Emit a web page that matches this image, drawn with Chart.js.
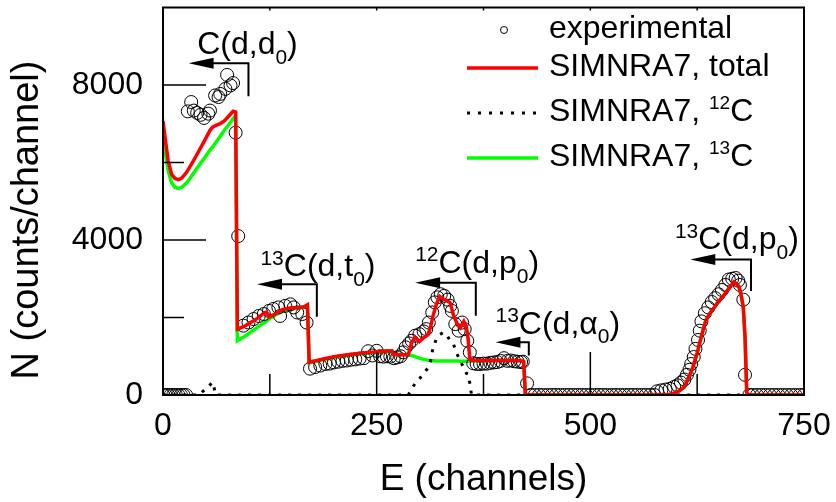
<!DOCTYPE html>
<html>
<head>
<meta charset="utf-8">
<script src="https://cdn.jsdelivr.net/npm/chart.js@4.4.1/dist/chart.umd.min.js"></script>
<style>
  html, body { margin: 0; padding: 0; background: #fff; }
</style>
</head>
<body>
<canvas id="spectrum" width="836" height="502"></canvas>
<script>
// experimental spectrum (channel, counts per channel)
const expChannels = [
  0, 3, 6, 9, 12, 15, 18, 21, 24, 27,
  29, 33, 36, 40, 44, 48, 53, 55, 61, 65, 67, 73, 75, 79, 82, 85, 88,
  94, 100, 106, 112, 118, 124, 129, 135, 137, 143, 149, 153, 157, 163, 168,
  172, 178, 184, 190, 195, 200, 205, 210, 215, 220, 225, 230, 235, 240, 245, 250, 254, 258, 262, 266, 270, 274, 278, 281, 284, 288, 291, 295,
  300, 305, 308, 311, 315, 318, 321, 325, 329, 333, 336, 338, 342, 346, 350, 353, 356, 359,
  363, 367, 371, 375, 379, 383, 387, 391, 395, 399, 403, 407, 411, 415, 419, 421, 426,
  430, 435, 440, 445, 450, 455, 460, 465, 470, 475, 480, 485, 490, 495, 500, 505, 510, 515, 520, 525, 530, 535, 540, 545, 550, 555, 560, 565, 570, 575,
  578, 583, 588, 593, 598, 602, 606, 610, 613, 616, 618, 621, 623, 626, 628, 630, 634, 638, 642, 646, 650, 654, 658, 662, 666, 670, 673, 675, 679, 681,
  686, 690, 695, 700, 705, 710, 715, 720, 725, 730, 735, 740, 745, 750
];
const expCounts = [
  0, 0, 0, 0, 0, 0, 0, 0, 0, 0,
  7320, 7560, 7340, 7280, 7230, 7150, 7260, 7340, 7730, 7690, 7770, 7900, 8260, 7990, 8050, 6770, 4100,
  1790, 1870, 1960, 2040, 2090, 2170, 2220, 2260, 2040, 2300, 2340, 2260, 2130, 2090, 1870,
  680, 720, 760, 800, 810, 840, 860, 880, 890, 910, 920, 940, 950, 1130, 1020, 1140, 1000, 990, 1000, 990, 950, 970, 1000, 1100, 1230, 1330, 1400, 1530,
  1570, 1640, 1700, 1870, 2130, 2390, 2520, 2600, 2560, 2460, 2300, 2170, 1830, 1660, 1870, 1700, 1400, 1100,
  820, 800, 800, 810, 810, 830, 840, 850, 880, 950, 880, 890, 870, 860, 850, 860, 300,
  0, 0, 0, 0, 0, 0, 0, 0, 0, 0, 0, 0, 0, 0, 0, 0, 0, 0, 0, 0, 0, 0, 0, 0, 0, 0, 0, 0, 0, 0,
  95, 120, 140, 160, 210, 250, 320, 400, 520, 650, 800, 980, 1190, 1420, 1660, 1900, 2110, 2260, 2400, 2500, 2600, 2710, 2840, 2980, 3000, 3020, 2950, 2840, 2460, 520,
  0, 0, 0, 0, 0, 0, 0, 0, 0, 0, 0, 0, 0, 0
];

// SIMNRA7 simulation
const simChannels = [
  0, 3, 6, 10, 14, 18, 22, 28, 35, 42,
  48, 55, 58, 62, 67, 72, 77, 82, 85, 87,
  95, 100, 110, 118, 121, 124, 131, 140, 150, 160,
  165, 169, 171, 180, 190, 200, 220, 240, 255, 268,
  270, 280, 287, 291, 295, 300, 305, 310, 313, 316,
  320, 324, 328, 332, 336, 340, 344, 348, 352, 355,
  357, 359, 361, 370, 380, 400, 415, 420, 422, 424,
  500, 590, 595, 600, 605, 610, 615, 620, 625, 630,
  635, 640, 645, 650, 655, 660, 665, 668, 671, 674,
  677, 679, 681, 683, 685, 750
];
const simTotal = [
  7070, 6550, 6050, 5700, 5590, 5560, 5600, 5760, 6020, 6300,
  6540, 6830, 6910, 6960, 7000, 7080, 7200, 7320, 7300, 1700,
  1770, 1840, 1970, 2110, 2140, 2010, 2090, 2210, 2250, 2260,
  2280, 2330, 850, 890, 940, 990, 1050, 1100, 1120, 1140,
  1050, 1040, 1040, 1360, 1490, 1380, 1480, 1560, 1750, 2050,
  2350, 2540, 2470, 2440, 2380, 2050, 1850, 1740, 1900, 1750,
  1450, 910, 895, 890, 890, 890, 890, 880, 860, 0,
  0, 0, 30, 60, 120, 210, 450, 720, 1080, 1520,
  1920, 2110, 2260, 2420, 2540, 2690, 2830, 2920, 2870, 2790,
  2520, 2250, 1500, 60, 0, 0
];
const simC12 = [
  0, 0, 0, 0, 0, 0, 0, 0, 0, 0,
  120, 260, 330, 0, 0, 0, 0, 0, 0, 0,
  0, 0, 0, 0, 0, 0, 0, 0, 0, 0,
  0, 0, 0, 0, 0, 0, 0, 0, 0, 0,
  0, 0, 0, 160, 300, 420, 550, 700, 870, 1230,
  1450, 1560, 1615, 1550, 1400, 1300, 1060, 870, 700, 560,
  540, 300, 0, 0, 0, 0, 0, 0, 0, 0,
  0, 0, 0, 0, 0, 0, 0, 0, 0, 0,
  0, 0, 0, 0, 0, 0, 0, 0, 0, 0,
  0, 0, 0, 0, 0, 0
];
const simC13 = [
  6740, 6200, 5800, 5480, 5360, 5330, 5360, 5480, 5700, 5920,
  6100, 6320, 6400, 6520, 6680, 6840, 6980, 7130, 7200, 1400,
  1500, 1580, 1740, 1860, 1900, 1960, 2060, 2160, 2220, 2250,
  2270, 2300, 830, 870, 920, 970, 1030, 1080, 1100, 1120,
  1040, 1040, 1040, 1020, 990, 950, 920, 900, 890, 885,
  880, 880, 880, 878, 875, 875, 875, 872, 870, 870,
  870, 870, 880, 885, 888, 890, 890, 880, 860, 0,
  0, 0, 30, 60, 120, 210, 450, 720, 1080, 1520,
  1920, 2110, 2260, 2420, 2540, 2690, 2830, 2920, 2870, 2790,
  2520, 2250, 1500, 60, 0, 0
];

const xTicks = [0, 250, 500, 750];
const xMinorTicks = [125, 375, 625];
const yTicks = [0, 4000, 8000];
const yMinorTicks = [2000, 6000];

// reaction edge markers: arrow from edge channel back to tip, label above
const reactions = [
  { edge: 100, tip: 30, level: 8560, foot: 7710, at: 40, base: 8800, label: [['C(d,d'], ['0', 'sub'], [')']] },
  { edge: 180, tip: 110, level: 2860, foot: 2020, at: 114, base: 3070, label: [['13', 'sup'], ['C(d,t'], ['0', 'sub'], [')']] },
  { edge: 366, tip: 295, level: 2900, foot: 2045, at: 295, base: 3150, label: [['12', 'sup'], ['C(d,p'], ['0', 'sub'], [')']] },
  { edge: 428, tip: 389, level: 1360, foot: 1020, at: 389, base: 1580, label: [['13', 'sup'], ['C(d,\u03b1'], ['0', 'sub'], [')']] },
  { edge: 688, tip: 617, level: 3500, foot: 2685, at: 599, base: 3760, label: [['13', 'sup'], ['C(d,p'], ['0', 'sub'], [')']] }
];

const legendRows = [
  { name: [['experimental']], symbol: 'circle' },
  { name: [['SIMNRA7, total']], symbol: 'red' },
  { name: [['SIMNRA7, '], ['12', 'sup'], ['C']], symbol: 'dots' },
  { name: [['SIMNRA7, '], ['13', 'sup'], ['C']], symbol: 'green' }
];

const family = '"Liberation Sans", Arial, sans-serif';
Chart.defaults.font.family = family;
Chart.defaults.color = '#000';

const pts = (xs, ys) => xs.map((v, i) => ({ x: v, y: ys[i] }));

function richText(ctx, x, y, parts, size, supSize) {
  for (const [str, kind] of parts) {
    const small = kind === 'sup' || kind === 'sub';
    ctx.font = (small ? supSize : size) + 'px ' + family;
    const dy = kind === 'sup' ? -size * 0.36 : kind === 'sub' ? size * 0.3 : 0;
    ctx.fillText(str, x, y + dy);
    x += ctx.measureText(str).width;
  }
  return x;
}

const overlay = {
  id: 'overlay',
  afterDatasetsDraw(chart) {
    const { ctx, chartArea: a, scales: { x, y } } = chart;
    ctx.save();
    ctx.strokeStyle = '#000';
    ctx.fillStyle = '#000';

    // inward ticks
    ctx.lineWidth = 1.5;
    ctx.beginPath();
    xTicks.forEach(v => { const p = x.getPixelForValue(v); ctx.moveTo(p, a.bottom); ctx.lineTo(p, a.bottom - 43); ctx.moveTo(p, a.top); ctx.lineTo(p, a.top + 3); });
    xMinorTicks.forEach(v => { const p = x.getPixelForValue(v); ctx.moveTo(p, a.bottom); ctx.lineTo(p, a.bottom - 21); ctx.moveTo(p, a.top); ctx.lineTo(p, a.top + 3); });
    yTicks.forEach(v => { const p = y.getPixelForValue(v); ctx.moveTo(a.left, p); ctx.lineTo(a.left + 43, p); });
    yMinorTicks.forEach(v => { const p = y.getPixelForValue(v); ctx.moveTo(a.left, p); ctx.lineTo(a.left + 21, p); });
    ctx.stroke();

    // frame
    ctx.lineWidth = 2;
    ctx.strokeRect(a.left, a.top, a.right - a.left, a.bottom - a.top);

    // reaction markers
    ctx.textBaseline = 'alphabetic';
    ctx.textAlign = 'left';
    reactions.forEach(r => {
      const ex = x.getPixelForValue(r.edge), tx = x.getPixelForValue(r.tip);
      const ly = y.getPixelForValue(r.level), fy = y.getPixelForValue(r.foot);
      ctx.lineWidth = 2;
      ctx.beginPath();
      ctx.moveTo(ex, fy);
      ctx.lineTo(ex, ly);
      ctx.lineTo(tx + 20, ly);
      ctx.stroke();
      ctx.beginPath();
      ctx.moveTo(tx, ly);
      ctx.lineTo(tx + 25, ly - 5.5);
      ctx.lineTo(tx + 25, ly + 5.5);
      ctx.closePath();
      ctx.fill();
      richText(ctx, x.getPixelForValue(r.at), y.getPixelForValue(r.base), r.label, 32, 21);
    });

    // legend
    const rowBase = [38, 76, 121, 166];
    legendRows.forEach((row, i) => {
      const by = rowBase[i], my = by - 8;
      ctx.save();
      if (row.symbol === 'circle') {
        ctx.lineWidth = 1;
        ctx.beginPath();
        ctx.arc(504, my, 3.5, 0, Math.PI * 2);
        ctx.stroke();
      } else {
        ctx.beginPath();
        ctx.moveTo(467, my);
        ctx.lineTo(538, my);
        if (row.symbol === 'red') { ctx.strokeStyle = '#ff0000'; ctx.lineWidth = 3.5; }
        if (row.symbol === 'green') { ctx.strokeStyle = '#00ff00'; ctx.lineWidth = 3.5; }
        if (row.symbol === 'dots') { ctx.lineWidth = 3; ctx.setLineDash([3, 8]); }
        ctx.stroke();
      }
      ctx.restore();
      richText(ctx, 549, by, row.name, 32, 19);
    });

    // y title
    ctx.save();
    ctx.translate(28, 220);
    ctx.rotate(-Math.PI / 2);
    ctx.font = '38px ' + family;
    ctx.textAlign = 'center';
    ctx.textBaseline = 'middle';
    ctx.fillText('N (counts/channel)', 0, 0);
    ctx.restore();

    ctx.restore();
  }
};

new Chart(document.getElementById('spectrum'), {
  type: 'scatter',
  data: {
    datasets: [
      {
        label: 'SIMNRA7, total',
        data: pts(simChannels, simTotal),
        showLine: true,
        borderColor: '#ff0000',
        borderWidth: 3.5,
        pointRadius: 0,
        tension: 0
      },
      {
        label: 'experimental',
        data: pts(expChannels, expCounts),
        showLine: false,
        pointStyle: 'circle',
        pointRadius: 6.5,
        borderColor: '#000',
        borderWidth: 1,
        backgroundColor: 'rgba(0,0,0,0)'
      },
      {
        label: 'SIMNRA7, 12C',
        data: pts(simChannels, simC12),
        showLine: true,
        borderColor: '#000',
        borderWidth: 3,
        borderDash: [3, 7],
        pointRadius: 0,
        tension: 0
      },
      {
        label: 'SIMNRA7, 13C',
        data: pts(simChannels, simC13),
        showLine: true,
        borderColor: '#00ff00',
        borderWidth: 3.5,
        pointRadius: 0,
        tension: 0
      }
    ]
  },
  options: {
    responsive: false,
    animation: false,
    layout: { padding: { top: 5, right: 32, left: 0, bottom: 0 } },
    plugins: { legend: { display: false }, tooltip: { enabled: false } },
    scales: {
      x: {
        type: 'linear',
        min: 0,
        max: 750,
        afterBuildTicks: s => { s.ticks = xTicks.map(v => ({ value: v })); },
        afterFit: s => { s.height = 107; s.paddingLeft = 0; s.paddingRight = 0; },
        grid: { display: false, drawTicks: false },
        border: { display: false },
        ticks: { font: { size: 32 }, color: '#000', padding: 12, maxRotation: 0, callback: v => String(v) },
        title: { display: true, text: 'E (channels)', font: { size: 37 }, color: '#000', padding: { top: 0, bottom: 0 } }
      },
      y: {
        min: 0,
        max: 10000,
        afterBuildTicks: s => { s.ticks = yTicks.map(v => ({ value: v })); },
        afterFit: s => { s.width = 163; s.paddingTop = 0; s.paddingBottom = 0; },
        grid: { display: false, drawTicks: false },
        border: { display: false },
        ticks: { font: { size: 32 }, color: '#000', padding: 20, callback: v => String(v) },
        title: { display: false }
      }
    }
  },
  plugins: [overlay]
});
</script>
</body>
</html>
